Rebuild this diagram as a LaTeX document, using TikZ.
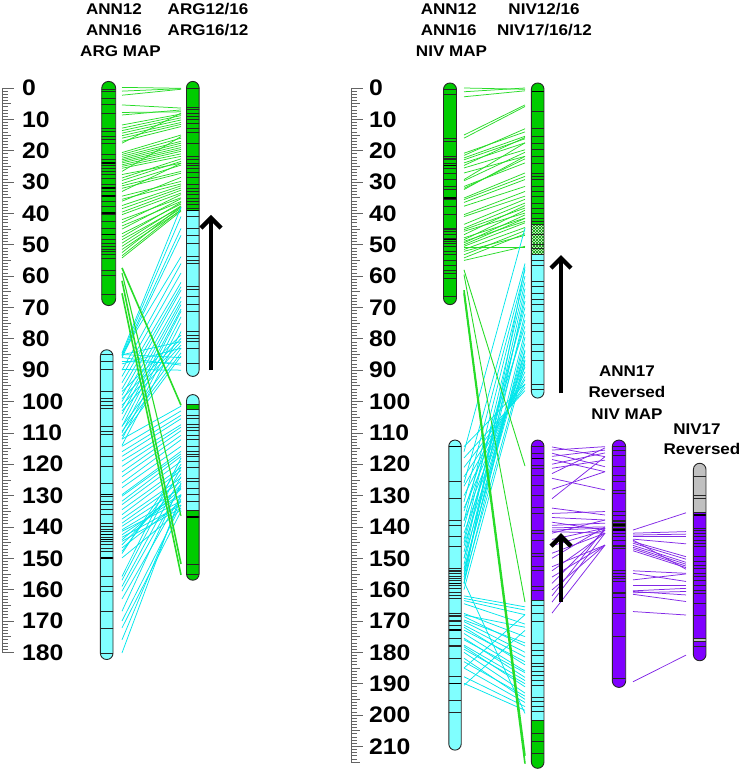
\documentclass[tikz,border=0pt]{standalone}
\usepackage{fontspec}
\setmainfont{Liberation Sans}[FakeStretch=1.1]
\usetikzlibrary{arrows.meta,patterns}
\definecolor{cgreen}{RGB}{0,204,0}
\definecolor{ccyan}{RGB}{128,255,255}
\definecolor{cpurple}{RGB}{127,0,255}
\definecolor{cgray}{RGB}{192,192,192}
\definecolor{lgreen}{RGB}{40,220,40}
\definecolor{lcyan}{RGB}{0,230,235}
\definecolor{lpurple}{RGB}{130,40,230}
\definecolor{hatchbg}{RGB}{215,250,215}
\definecolor{hatchcol}{RGB}{0,150,0}
\definecolor{rulecol}{RGB}{100,100,100}
\tikzset{
 bandline/.style={draw=black!85, line width=0.6pt},
 bandthick/.style={draw=black, line width=1.4pt},
 chromoutline/.style={draw=black!85, line width=0.9pt},
 fgreen/.style={fill=cgreen},
 fcyan/.style={fill=ccyan},
 fpurple/.style={fill=cpurple},
 fgray/.style={fill=cgray},
 fhatch/.style={fill=hatchbg, postaction={pattern=north east lines, pattern color=hatchcol}, postaction={pattern=north west lines, pattern color=hatchcol}},
 gline/.style={draw=lgreen, line width=0.75pt},
 glong/.style={draw=lgreen, line width=1.6pt},
 cline/.style={draw=lcyan, line width=0.75pt},
 pline/.style={draw=lpurple, line width=0.75pt},
 ticks/.style={draw=rulecol, line width=0.7pt},
 numlab/.style={font=\fontsize{22.5}{22.5}\selectfont\bfseries, inner sep=0pt, anchor=west},
 titlab/.style={font=\fontsize{15.5}{15.5}\selectfont\bfseries, inner sep=0pt, anchor=base},
 bigarrow/.style={draw=black, line width=4.3pt, -{Straight Barb[length=10pt,width=20pt]}},
}
% #1 x centre, #2 half width, #3 top, #4 bottom, #5 segments, #6 bands, #7 thick bands
\newcommand{\chromo}[7]{%
  \pgfmathsetmacro\rr{#2-0.05}%
  \begin{scope}
    \clip[rounded corners=\rr pt] (#1-#2,#3) rectangle (#1+#2,#4);
    \foreach \sa/\sb/\sc in {#5} \fill[\sc] (#1-#2-1,\sa) rectangle (#1+#2+1,\sb);
    \foreach \bb in {#6} \draw[bandline] (#1-#2-1,\bb) -- (#1+#2+1,\bb);
    \foreach \bb in {#7} \draw[bandthick] (#1-#2-1,\bb) -- (#1+#2+1,\bb);
  \end{scope}
  \draw[chromoutline, rounded corners=\rr pt] (#1-#2,#3) rectangle (#1+#2,#4);
}
\begin{document}
\begin{tikzpicture}
\path[use as bounding box] (0pt,0pt) rectangle (742pt,-771pt);
\begin{scope}[shift={(0pt,-88pt)}, x=1pt, y=-3.135pt]
% rulers
\foreach \i in {0,...,180} \draw[ticks] (2,\i) -- (8,\i);
\foreach \i in {0,5,...,180} \draw[ticks] (2,\i) -- (10.5,\i);
\foreach \i in {0,10,...,180} \draw[ticks] (2,\i) -- (14,\i);
\draw[ticks] (2,0) -- (2,180);
\foreach \i in {0,10,...,180} \node[numlab] (la\i) at (22,\i) {\i};
\foreach \i in {0,...,215} \draw[ticks] (351,\i) -- (357,\i);
\foreach \i in {0,5,...,215} \draw[ticks] (351,\i) -- (359.5,\i);
\foreach \i in {0,10,...,210} \draw[ticks] (351,\i) -- (363,\i);
\draw[ticks] (351,0) -- (351,215);
\foreach \i in {0,10,...,210} \node[numlab] (ra\i) at (369,\i) {\i};

% connectors left panel
\foreach \a/\b in {-0.2/0.1, 1/0.2, 2.3/0.4, 5.4/6.4, 8.6/7, 7.8/7.6, 11.8/8.3, 12.8/8.8, 13.6/9.5, 14.4/10.2, 15.2/11, 16/11.6, 17/12.3, 17.6/8, 20.6/15, 21.2/16, 21.8/17, 22.4/17.6, 22.9/18.3, 23.4/19, 23.9/19.6, 24.5/20.2, 25/21, 25.6/21.8, 26.6/15.5, 27.6/24, 28.7/22.6, 29.5/23.4, 30.5/24.6, 31.2/26.6, 32/27.2, 33/24, 34.5/29.8, 35.5/30.6, 36.1/28.5, 37.5/31.2, 38.5/31.9, 39.6/32.6, 40.4/33.5, 42/35, 43/34, 44/36.2, 45/35.3, 46.5/37, 47.5/36.5, 48.4/38, 49.5/37.6, 50.5/38.4, 51.5/39, 52.5/37.8, 53.5/38.8, 54.2/39.3}
  \draw[gline] (122,\a) -- (181,\b);
\foreach \a/\b in {84.5/38, 85/41, 85.5/44.8, 86/47, 85/53.8, 85/86, 86/88.4, 87.2/87.8, 88/83, 89.8/90, 85.1/80.9, 90/56, 92/59, 94/62, 96/63.4, 98/64.5, 100/66.6, 102/68, 104/69.1, 106/70.5, 108/71.2, 110/73, 112/75, 114/77.7, 96.8/78.8, 99.1/79.9, 101.2/80.9, 103/82, 107.9/83, 109.5/84.5, 111/85.5, 112/101.5, 114.3/103, 116/104.4, 117.5/105.5, 119/107.4, 120.7/108.2, 122.5/109.3, 124/110.8, 126/112.2, 127.5/114.3, 129.7/115.9, 130.2/116.7, 131.8/117.5, 132.9/119.1, 134.5/121, 136.1/122, 137.5/124.4, 138.8/125.5, 139.8/127.6, 140.9/129.7, 141.4/131.8, 142.5/130, 143.3/133, 144.1/128, 144.6/134, 145.7/126.5, 146.7/132, 147.8/123, 149.9/134.5, 148.5/120, 155.8/118, 157/121, 159/124, 160.5/127, 163/130, 166.9/126, 170/133, 172.2/135, 176/131, 180.2/129.7}
  \draw[cline] (122,\a) -- (181,\b);
\foreach \a/\b in {57.4/101.2, 61.5/151.8, 65.5/155.3}
  \draw[glong] (122,\a) -- (181,\b);
\draw[gline, line width=1.1pt] (122,59) -- (181,136.5);

% connectors right panel
\foreach \a/\b in {0/0.4, 1.2/0, 2.8/0.9, 15/5.4, 16/5.9, 20.8/14, 21.5/13, 22.3/15.4, 22.9/16.2, 23.9/17.5, 24.7/15.8, 25.5/19.7, 27.1/21.8, 29.2/17.5, 29.6/20.5, 31.4/23.9, 32/22.6, 32.4/21.8, 35.1/27.1, 35.6/28.2, 36.5/29.2, 37.7/31.4, 40.4/33, 41/34.5, 43.5/35.5, 44.7/36.7, 45.2/38.3, 45.7/39.9, 46.8/37.5, 47.8/41.5, 48.4/39, 48.9/42.5, 49.4/40.5, 50/41.6, 50.5/43, 51.5/44.5, 52.1/47, 53.2/45.5, 54.2/46.5, 55/50.5}
  \draw[gline] (464,\a) -- (525,\b);
\draw[gline, line width=1.2pt] (464,50.8) -- (525,50.8);
\foreach \a/\b in {116/44.7, 114.4/94.4, 118/96.5, 121/95.5, 124/94.5, 127/93, 130/92, 134/90.5, 138/89, 142/87, 146/85.5, 150/83.5, 154/81.5, 158/79.5, 126/56, 132/58, 138/60, 144/62, 150/64, 156/66, 148/68, 140/70, 152/72, 145/74, 135/76, 158/57, 155/77.6, 153.2/84, 157/86.7, 160/88}
  \draw[cline] (464,\a) -- (525,\b);
\foreach \a/\b in {162/165.5, 162.8/166.5, 163.5/168, 164.5/171, 167.6/175, 168.1/172, 168.6/178, 169.7/177, 170.2/180, 171.3/181.5, 172/184, 172.9/183, 174/186, 175.5/188, 176/186.5, 177.7/189, 178.2/191, 179/190, 180/193, 181.9/195, 183/194, 185/196, 187.8/197.3, 189.9/198.5, 157.5/199.5, 185/168, 190.5/173}
  \draw[cline] (464,\a) -- (525,\b);
\draw[gline, line width=0.9pt] (464,58) -- (525,120.6);
\draw[gline, line width=0.9pt] (464,59.5) -- (525,164);
\draw[glong] (464,64.5) -- (525,213);
\draw[glong] (464,65.5) -- (525,215.5);
\foreach \a/\b in {114.5/117.6, 115.5/114.4, 116.5/120.8, 117.5/115.5, 118.5/122.4, 120/116.4, 121.3/118.7, 123/114.8, 124.5/128.2, 128/122.4, 131/117.6, 134/136.2, 135.7/135.1, 137/137.8, 138.5/141, 139.5/138.8, 140.3/140, 141/140.4, 141.5/142, 142/137.8, 144/140.4, 146/141, 148.4/142, 150/140, 152.7/145.8, 154/142, 156/145.8, 158/141, 160.1/145.8, 162/140.4, 164/142, 167.5/145.8}
  \draw[pline] (552,\a) -- (605,\b);
\foreach \a/\b in {141/135.5, 142/141.5, 142.6/142.3, 143.1/143.1, 143.9/145.4, 144.7/149.5, 145.2/150.3, 145.9/151.3, 146.5/151.9, 147/152.5, 147.6/153, 144.2/153.5, 154/154.8, 154.8/157.4, 156.9/155, 158.5/158.5, 160.4/159.6, 161/160.6, 161.5/163.8, 160.6/161.7, 167/168.1, 189.4/180.9}
  \draw[pline] (633,\a) -- (686,\b);

% chromosomes
\chromo{108.7}{7}{-2.1}{69.4}{-3/70/fgreen}
 {0.5,1,3.2,5.3,8,12.8,13.8,15.4,16.5,17.5,21.3,22.9,24.5,25.5,26.6,27.6,28.7,30.8,33,36.1,37.7,40.4,42.5,44.7,48.4,49.4,50.5,51.6,52.1,53.2,54.2,58,59.6,65.9}
 {23.9,31.9,34.5,39.9,46.8}
\chromo{106.7}{6.3}{83.5}{182.3}{83/183/fcyan}
 {85.1,87.2,89.8,96.8,99.1,99.9,101.2,102.1,107.9,109.5,110.6,114.3,117.5,120.7,126,130.2,131.8,132.9,134.5,136.1,138.8,139.8,140.9,141.4,143.3,144.6,145.7,146.7,147.8,155.8,159,160.5,166.9,172.2,180.2}
 {129.7,142.5,144.1,149.9}
\chromo{192.8}{6.3}{-2.1}{92}{-3/39.1/fgreen, 39.1/93/fcyan}
 {0,6.2,6.9,8,9,10.1,11.2,12.8,14,17.5,21.8,22.9,23.9,24.7,25.5,26.8,28.5,30.8,31.9,33,34,35.3,36.1,37.2,38.3,40.9,44.8,46.9,49.4,53.8,54.9,55.8,63.4,64.2,66.6,69.1,71.2,77.7,78.8,79.9,80.9,83,87.8}
 {39.1}
\chromo{192.8}{6.3}{97.8}{157}{97/100.8/fcyan, 100.8/102.6/fgreen, 102.6/134.8/fcyan, 134.8/158/fgreen}
 {100.8,102.6,104.4,105.5,107.4,108.2,109.3,110.8,112.2,114.3,115.9,116.7,117.5,119.1,121,124.4,125.5,127.6,129.7,131.8,134.8,152,155.2}
 {136.9}
\chromo{450}{6.5}{-1.6}{69.1}{-3/70/fgreen}
 {0.5,2.1,15.9,17,21.8,22.3,22.9,23.9,25.5,27.1,29.2,31.4,32.4,35.6,37.7,40.4,44.7,45.2,45.7,46.8,47.8,48.9,49.4,50.5,52.1,53.2,54.8,56.4,58,59,60.6,66.4}
 {24.7,35.1,48.4}
\chromo{537.7}{6.3}{-1.6}{98.9}{-3/43.6/fgreen, 43.6/53.2/fhatch, 53.2/100/fcyan}
 {7.4,12.8,15.4,17.5,19.7,21.8,23.9,27.1,28.2,29.2,31.4,33,34.5,36.7,38.3,39.9,41.5,42.5,43.6,46.8,50,51,53.2,54.8,56.4,61.7,63.3,65.4,67.5,69.1,71.2,75,77.6,81.9,84,86.7,94.6,96.2}
 {1.1}
\chromo{455}{6.2}{112.3}{211.2}{112/212/fcyan}
 {125.6,130.9,137.8,139.4,143.1,146.3,153.2,153.7,154.3,154.8,155.9,156.4,157,158.6,159.6,160.7,161.8,162.8,167.6,168.1,168.6,169.7,170.2,171.3,175.5,177.7,178.2,181.9,187.8,195.2,199}
 {114.4,158,172.9,189.9}
\chromo{537.7}{6.3}{112.3}{217}{112/163.3/fpurple, 163.3/201.6/fcyan, 201.6/218/fgreen}
 {114.4,116.5,120.3,121.3,123.4,126.6,129.8,133.6,135.7,141,142,144.2,148.4,149.5,152.7,153.7,159.1,160.1,163.3,164.9,167.6,170.2,177.1,179.3,180.9,183.5,184.6,186.2,187.3,188.8,190.4,194.2,195.7,197.3,198.9,201.6,205.8,208.5,212.2}
 {118.1}
\chromo{619}{6.7}{112.3}{191.2}{112/192/fpurple}
 {114.4,115.5,117.1,120.8,123.4,125.6,128.2,129.3,135.1,136.2,137.8,138.3,138.9,139.9,140.5,142,143.1,144.2,145.8,146.3,146.8,153.7,154.8,155.9,156.4,157.5,160.7,161.2,162.3,167.6,175,188.3}
 {139.4,141}
\chromo{699.7}{6.3}{119.7}{182.7}{119/135.5/fgray, 135.5/175.5/fpurple, 175.5/176.6/fgray, 176.6/183/fpurple}
 {124,129.8,130.9,135.5,140.5,141,142,143.1,144.2,145.3,146.3,149.5,151.1,152.2,153.2,154.8,155.9,156.9,158.5,160.1,161.2,164.4,168.1,175.5,176.6,178.2}
 {136.2}

% arrows
\coordinate (a1s) at (211,90);   \coordinate (a1e) at (211,40.5);
\coordinate (a2s) at (561,97.4); \coordinate (a2e) at (561,53.3);
\coordinate (a3s) at (561,164);  \coordinate (a3e) at (561,142);
\draw[bigarrow] (a1s) -- (a1e);
\draw[bigarrow] (a2s) -- (a2e);
\draw[bigarrow] (a3s) -- (a3e);
\end{scope}

% titles
\begin{scope}[x=1pt,y=-1pt]
\node[titlab] (t1) at (114,14) {ANN12};
\node[titlab] (t2) at (114,35) {ANN16};
\node[titlab] (t3) at (120.5,56) {ARG MAP};
\node[titlab] (t4) at (208,14) {ARG12/16};
\node[titlab] (t5) at (208,35) {ARG16/12};
\node[titlab] (t6) at (448.7,14) {ANN12};
\node[titlab] (t7) at (448.7,35) {ANN16};
\node[titlab] (t8) at (451.5,56) {NIV MAP};
\node[titlab] (t9) at (544,14) {NIV12/16};
\node[titlab] (t10) at (544.5,35) {NIV17/16/12};
\node[titlab] (t11) at (627,376) {ANN17};
\node[titlab] (t12) at (627,397.5) {Reversed};
\node[titlab] (t13) at (627,419) {NIV MAP};
\node[titlab] (t14) at (697,434.3) {NIV17};
\node[titlab] (t15) at (702,454.3) {Reversed};
\end{scope}
\end{tikzpicture}
\end{document}
